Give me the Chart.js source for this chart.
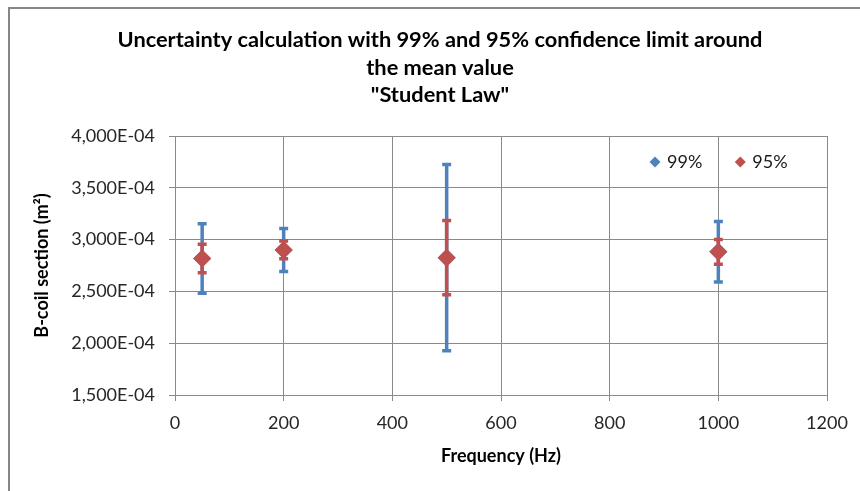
<!DOCTYPE html>
<html>
<head>
<meta charset="utf-8">
<script src="https://cdn.jsdelivr.net/npm/chart.js@4.4.0/dist/chart.umd.min.js"></script>
<style>
  html, body { margin: 0; padding: 0; background: #fff; overflow: hidden; }
  #wrap { position: relative; width: 860px; height: 491px; }
  #frame { position: absolute; left: 8px; top: 7px; width: 900px; height: 600px;
           border-left: 2px solid #868686; border-top: 2px solid #868686; pointer-events: none; }
</style>
</head>
<body>
<div id="wrap">
  <canvas id="chart" width="860" height="491"></canvas>
  <div id="frame"></div>
</div>
<script>
// --- data ---
const frequency = [50, 200, 500, 1000];                              // Hz
const meanSection = [2.817e-4, 2.900e-4, 2.826e-4, 2.882e-4];        // m²
const halfWidth99 = [0.335e-4, 0.207e-4, 0.899e-4, 0.292e-4];
const halfWidth95 = [0.138e-4, 0.086e-4, 0.358e-4, 0.119e-4];
const seriesLabels = ['99%', '95%'];
const titleLines = ['Uncertainty calculation with 99% and 95% confidence limit around', 'the mean value', '"Student Law"'];

const BLUE = '#4f81bd';
const RED = '#c0504d';
const GRID = '#8a8a8a';
const FONT = 'Lato, "Open Sans", sans-serif';

const points = frequency.map((f, i) => ({ x: f, y: meanSection[i] }));

// fixed-position title (chart is centred on the original, wider frame)
const titlePlugin = {
    id: 'excelTitle',
    afterDraw(chart) {
        const ctx = chart.ctx;
        ctx.save();
        ctx.font = 'bold 21.8px ' + FONT;
        ctx.fillStyle = '#000';
        ctx.textAlign = 'center';
        ctx.textBaseline = 'middle';
        titleLines.forEach((line, i) => ctx.fillText(line, 440, 40 + i * 27.5));
        ctx.restore();
    }
};

// error bars, drawn just before each dataset's markers
const errorBarPlugin = {
    id: 'errorBars',
    beforeDatasetDraw(chart, args) {
        const ds = chart.data.datasets[args.index];
        const xs = chart.scales.x, ys = chart.scales.y;
        const ctx = chart.ctx;
        ctx.save();
        ctx.strokeStyle = ds.borderColor;
        ctx.lineWidth = 3.5;
        ctx.lineCap = 'butt';
        ds.data.forEach((p, i) => {
            const x = xs.getPixelForValue(p.x);
            const top = ys.getPixelForValue(p.y + ds.errors[i]);
            const bot = ys.getPixelForValue(p.y - ds.errors[i]);
            ctx.beginPath();
            ctx.moveTo(x, top); ctx.lineTo(x, bot);
            ctx.moveTo(x - 4.5, top); ctx.lineTo(x + 4.5, top);
            ctx.moveTo(x - 4.5, bot); ctx.lineTo(x + 4.5, bot);
            ctx.stroke();
        });
        ctx.restore();
    }
};

// legend inside the plot, top right
const legendPlugin = {
    id: 'insideLegend',
    afterDraw(chart) {
        const ctx = chart.ctx;
        ctx.save();
        ctx.font = '18px ' + FONT;
        ctx.textBaseline = 'middle';
        ctx.textAlign = 'left';
        let x = 655;
        const y = 162;
        chart.data.datasets.forEach(ds => {
            ctx.fillStyle = ds.backgroundColor;
            ctx.beginPath();
            ctx.moveTo(x, y - 5.5); ctx.lineTo(x + 5.5, y); ctx.lineTo(x, y + 5.5); ctx.lineTo(x - 5.5, y);
            ctx.closePath();
            ctx.fill();
            ctx.fillStyle = '#1a1a1a';
            ctx.fillText(ds.label, x + 12, y);
            x += 12 + ctx.measureText(ds.label).width + 38;
        });
        ctx.restore();
    }
};

new Chart(document.getElementById('chart'), {
    type: 'scatter',
    data: {
        datasets: [
            {
                label: seriesLabels[0],
                data: points,
                errors: halfWidth99,
                borderColor: BLUE,
                backgroundColor: BLUE,
                pointStyle: 'rectRot',
                pointRadius: 9,
                pointBorderWidth: 0,
                order: 2
            },
            {
                label: seriesLabels[1],
                data: points,
                errors: halfWidth95,
                borderColor: RED,
                backgroundColor: RED,
                pointStyle: 'rectRot',
                pointRadius: 9,
                pointBorderWidth: 0,
                order: 1
            }
        ]
    },
    plugins: [errorBarPlugin, titlePlugin, legendPlugin],
    options: {
        responsive: false,
        animation: false,
        layout: { padding: { top: 136, right: 33, bottom: 0, left: 0 } },
        plugins: { legend: { display: false }, tooltip: { enabled: false } },
        scales: {
            x: {
                type: 'linear',
                min: 0, max: 1200,
                ticks: { stepSize: 200, color: '#262626', font: { family: FONT, size: 18 }, padding: 11,
                         callback: v => String(v) },
                grid: { color: GRID, tickLength: 6 },
                border: { color: GRID },
                title: { display: true, text: 'Frequency (Hz)', color: '#000',
                         font: { family: FONT, size: 18, weight: 'bold' }, padding: 24 },
                afterFit: s => { s.height = 96; }
            },
            y: {
                min: 1.5e-4, max: 4e-4,
                ticks: {
                    stepSize: 0.5e-4, color: '#262626', font: { family: FONT, size: 18 }, padding: 14,
                    callback: v => (Math.round(v * 1e7) / 1e3).toFixed(3).replace('.', ',') + 'E-04'
                },
                grid: { color: GRID, tickLength: 6 },
                border: { color: GRID },
                title: { display: true, text: 'B-coil section (m²)', color: '#000',
                         font: { family: FONT, size: 18, weight: 'bold' }, padding: 31 },
                afterFit: s => { s.width = 175; }
            }
        }
    }
});
</script>
</body>
</html>
